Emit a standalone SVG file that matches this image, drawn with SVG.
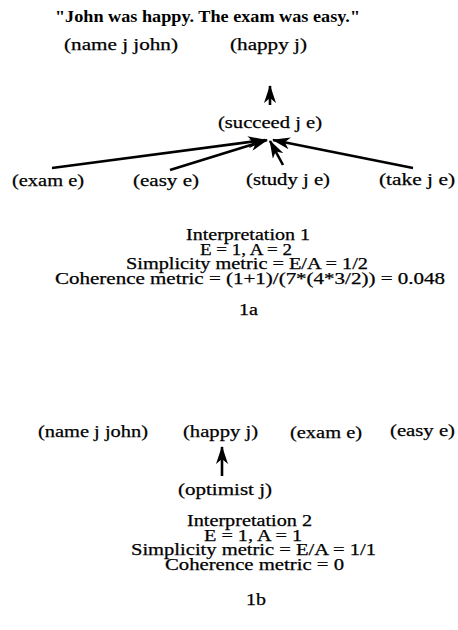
<svg xmlns="http://www.w3.org/2000/svg" width="458" height="630" viewBox="0 0 458 630">
<style>
text{font-family:"Liberation Serif","Times New Roman",serif;font-size:17px;fill:#000;stroke:#000;stroke-width:0.25}
.title{font-weight:bold;stroke-width:0}
.cap{font-size:16px}
.conn line{stroke:#000;stroke-width:2.6;marker-end:url(#ah)}
</style>
<defs>
<marker id="ah" markerUnits="userSpaceOnUse" markerWidth="18" markerHeight="12" viewBox="0 0 18 12" refX="17" refY="6" orient="auto">
<path d="M0,0 L18,6 L0,12 L5,6 z" fill="#000"/>
</marker>
</defs>
<rect width="458" height="630" fill="#fff"/>
<text class="title" x="55" y="22" textLength="305" lengthAdjust="spacingAndGlyphs">"John was happy. The exam was easy."</text>

<g id="a-name"><text x="64" y="50" textLength="114" lengthAdjust="spacingAndGlyphs">(name j john)</text></g>
<g id="a-happy"><text x="230" y="50" textLength="77" lengthAdjust="spacingAndGlyphs">(happy j)</text></g>
<g id="a-succeed"><text x="218" y="128" textLength="104" lengthAdjust="spacingAndGlyphs">(succeed j e)</text></g>
<g id="a-exam"><text x="12" y="186" textLength="72" lengthAdjust="spacingAndGlyphs">(exam e)</text></g>
<g id="a-easy"><text x="133" y="186" textLength="66" lengthAdjust="spacingAndGlyphs">(easy e)</text></g>
<g id="a-study"><text x="246" y="185" textLength="84" lengthAdjust="spacingAndGlyphs">(study j e)</text></g>
<g id="a-take"><text x="379" y="185" textLength="76" lengthAdjust="spacingAndGlyphs">(take j e)</text></g>

<g id="a-caption">
<text class="cap" x="186" y="240" textLength="124" lengthAdjust="spacingAndGlyphs">Interpretation 1</text>
<text class="cap" x="200" y="254.5" textLength="92" lengthAdjust="spacingAndGlyphs">E = 1, A = 2</text>
<text class="cap" x="126" y="269" textLength="242" lengthAdjust="spacingAndGlyphs">Simplicity metric = E/A = 1/2</text>
<text class="cap" x="55" y="283.5" textLength="390" lengthAdjust="spacingAndGlyphs">Coherence metric = (1+1)/(7*(4*3/2)) = 0.048</text>
<text class="cap" x="239" y="315" textLength="19" lengthAdjust="spacingAndGlyphs">1a</text>
</g>

<g id="b-name"><text x="38" y="437" textLength="110" lengthAdjust="spacingAndGlyphs">(name j john)</text></g>
<g id="b-happy"><text x="183" y="437" textLength="75" lengthAdjust="spacingAndGlyphs">(happy j)</text></g>
<g id="b-exam"><text x="290" y="438" textLength="72" lengthAdjust="spacingAndGlyphs">(exam e)</text></g>
<g id="b-easy"><text x="390" y="436" textLength="65" lengthAdjust="spacingAndGlyphs">(easy e)</text></g>
<g id="b-optimist"><text x="178" y="495" textLength="94" lengthAdjust="spacingAndGlyphs">(optimist j)</text></g>

<g id="b-caption">
<text class="cap" x="187" y="526" textLength="125" lengthAdjust="spacingAndGlyphs">Interpretation 2</text>
<text class="cap" x="204" y="540.5" textLength="98" lengthAdjust="spacingAndGlyphs">E = 1, A = 1</text>
<text class="cap" x="131" y="555" textLength="245" lengthAdjust="spacingAndGlyphs">Simplicity metric = E/A = 1/1</text>
<text class="cap" x="165" y="569.5" textLength="179" lengthAdjust="spacingAndGlyphs">Coherence metric = 0</text>
<text class="cap" x="246" y="605" textLength="20" lengthAdjust="spacingAndGlyphs">1b</text>
</g>

<g id="connectors" class="conn">
<line x1="270" y1="105" x2="270" y2="86"/>
<line x1="52" y1="168" x2="265" y2="140"/>
<line x1="170" y1="170" x2="267" y2="140"/>
<line x1="283" y1="165" x2="270" y2="141"/>
<line x1="413" y1="168" x2="273" y2="140"/>
<line x1="222" y1="476" x2="222" y2="447"/>
</g>
</svg>
